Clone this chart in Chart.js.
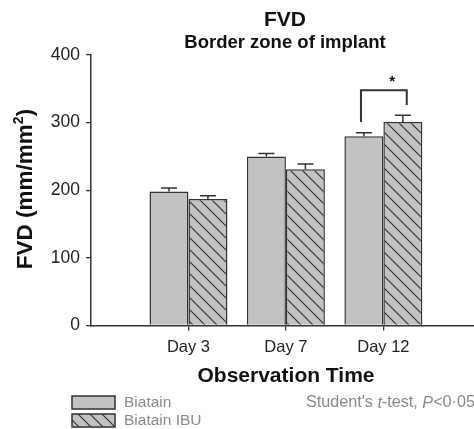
<!DOCTYPE html>
<html>
<head>
<meta charset="utf-8">
<script src="https://cdn.jsdelivr.net/npm/chart.js@4/dist/chart.umd.min.js"></script>
<style>
html,body{margin:0;padding:0;background:#fff;}
canvas{display:block;}
</style>
</head>
<body>
<canvas id="c" width="474" height="429"></canvas>
<script>
// ---- data ----
const categories = ['Day 3', 'Day 7', 'Day 12'];
const catPositions = [1, 2, 3];
const biatain = [198, 250, 280];
const biatainErr = [5.5, 4.5, 5];
const biatainIBU = [187, 231, 301];
const biatainIBUErr = [5, 8, 10];
const yTicks = [0, 100, 200, 300, 400];
const bracketX = [2.77, 3.24];
const bracketY = [301, 348, 348, 326];
const starPos = [3.09, 365];
const seriesNames = ['Biatain', 'Biatain IBU'];

const FONT = '"Liberation Sans", Arial, Helvetica, sans-serif';
const GREY = '#c2c2c2';
const DARK = '#333';

const canvas = document.getElementById('c');
const mainCtx = canvas.getContext('2d');

function makeHatch() {
  const s = 12;
  const c = document.createElement('canvas');
  c.width = s; c.height = s;
  const g = c.getContext('2d');
  g.fillStyle = GREY;
  g.fillRect(0, 0, s, s);
  g.strokeStyle = DARK;
  g.lineWidth = 1.2;
  g.beginPath();
  g.moveTo(-1, -1); g.lineTo(s + 1, s + 1);
  g.moveTo(-1, s - 1); g.lineTo(1, s + 1);
  g.moveTo(s - 1, -1); g.lineTo(s + 1, 1);
  g.stroke();
  return mainCtx.createPattern(c, 'repeat');
}
const hatch = makeHatch();

const errs = [biatainErr, biatainIBUErr];
const vals = [biatain, biatainIBU];

const decor = {
  id: 'decor',
  afterDatasetsDraw(chart) {
    const ctx = chart.ctx;
    const xs = chart.scales.x, ys = chart.scales.y;
    ctx.save();
    ctx.strokeStyle = DARK;
    ctx.lineWidth = 1.5;
    // error bars
    for (let d = 0; d < 2; d++) {
      const meta = chart.getDatasetMeta(d);
      meta.data.forEach((bar, j) => {
        const yTop = ys.getPixelForValue(vals[d][j] + errs[d][j]);
        ctx.beginPath();
        ctx.moveTo(bar.x, bar.y);
        ctx.lineTo(bar.x, yTop);
        ctx.moveTo(bar.x - 8, yTop);
        ctx.lineTo(bar.x + 8, yTop);
        ctx.stroke();
      });
    }
    // significance bracket
    const bx1 = xs.getPixelForValue(bracketX[0]);
    const bx2 = xs.getPixelForValue(bracketX[1]);
    ctx.lineWidth = 2;
    ctx.beginPath();
    ctx.moveTo(bx1, ys.getPixelForValue(bracketY[0]));
    ctx.lineTo(bx1, ys.getPixelForValue(bracketY[1]));
    ctx.lineTo(bx2, ys.getPixelForValue(bracketY[2]));
    ctx.lineTo(bx2, ys.getPixelForValue(bracketY[3]));
    ctx.stroke();
    ctx.fillStyle = '#111';
    ctx.font = 'bold 15px ' + FONT;
    ctx.textAlign = 'center';
    ctx.textBaseline = 'middle';
    ctx.fillText('*', xs.getPixelForValue(starPos[0]), ys.getPixelForValue(starPos[1]) + 3);
    ctx.restore();
  },
  afterDraw(chart) {
    const ctx = chart.ctx;
    ctx.save();
    ctx.fillStyle = '#111';
    ctx.textAlign = 'center';
    ctx.textBaseline = 'middle';
    // titles
    ctx.font = 'bold 21px ' + FONT;
    ctx.fillText('FVD', 285, 20);
    ctx.font = 'bold 18.5px ' + FONT;
    ctx.fillText('Border zone of implant', 285, 43);
    // x title
    ctx.font = 'bold 21px ' + FONT;
    ctx.fillText('Observation Time', 286, 376);
    // y title rotated with superscript
    ctx.save();
    ctx.translate(26, 189);
    ctx.rotate(-Math.PI / 2);
    const f1 = 'bold 22.5px ' + FONT, f2 = 'bold 14px ' + FONT;
    ctx.font = f1;
    const p1 = 'FVD (mm/mm', p3 = ')';
    const w1 = ctx.measureText(p1).width, w3 = ctx.measureText(p3).width;
    ctx.font = f2;
    const w2 = ctx.measureText('2').width;
    let x = -(w1 + w2 + w3) / 2;
    ctx.textAlign = 'left';
    ctx.font = f1; ctx.fillText(p1, x, 0); x += w1;
    ctx.font = f2; ctx.fillText('2', x, -6.5); x += w2;
    ctx.font = f1; ctx.fillText(p3, x, 0);
    ctx.restore();
    // legend
    const boxes = [[72, 396], [72, 414]];
    const fills = [GREY, hatch];
    ctx.lineWidth = 1.5;
    ctx.strokeStyle = DARK;
    boxes.forEach((b, i) => {
      ctx.fillStyle = fills[i];
      ctx.fillRect(b[0], b[1], 43, 13);
      ctx.strokeRect(b[0], b[1], 43, 13);
    });
    ctx.fillStyle = '#8a8a8a';
    ctx.textAlign = 'left';
    ctx.font = '15.5px ' + FONT;
    ctx.fillText(seriesNames[0], 124, 403);
    ctx.fillText(seriesNames[1], 124, 421);
    // statistics note
    const parts = [["Student's ", false], ['t', true], ['-test, ', false], ['P', true], ['<0·05', false]];
    const nf = '16.2px ' + FONT;
    let total = 0;
    parts.forEach(p => { ctx.font = (p[1] ? 'italic ' : '') + nf; total += ctx.measureText(p[0]).width; });
    let sx = 475 - total;
    parts.forEach(p => { ctx.font = (p[1] ? 'italic ' : '') + nf; ctx.fillText(p[0], sx, 403); sx += ctx.measureText(p[0]).width; });
    ctx.restore();
  }
};

new Chart(canvas, {
  type: 'bar',
  data: {
    datasets: [
      {
        label: seriesNames[0],
        data: catPositions.map((x, i) => ({ x: x, y: biatain[i] })),
        backgroundColor: GREY,
        borderColor: DARK,
        borderWidth: 1.5,
        categoryPercentage: 0.8,
        barPercentage: 1.0
      },
      {
        label: seriesNames[1],
        data: catPositions.map((x, i) => ({ x: x, y: biatainIBU[i] })),
        backgroundColor: hatch,
        borderColor: DARK,
        borderWidth: 1.5,
        categoryPercentage: 0.8,
        barPercentage: 1.0
      }
    ]
  },
  options: {
    responsive: false,
    animation: false,
    devicePixelRatio: 1,
    layout: { padding: { top: 55, left: 0, right: 0, bottom: 0 } },
    plugins: { legend: { display: false }, tooltip: { enabled: false }, title: { display: false } },
    scales: {
      x: {
        type: 'linear',
        offset: false,
        min: 0,
        max: 3.93,
        afterBuildTicks: s => { s.ticks = catPositions.map(v => ({ value: v })); },
        afterFit: s => { s.height = 103.5; },
        ticks: {
          callback: v => categories[catPositions.indexOf(v)],
          font: { size: 16.5, family: FONT },
          color: '#222',
          padding: 7,
          maxRotation: 0,
          autoSkip: false
        },
        grid: { offset: false, drawOnChartArea: false, drawTicks: true, tickLength: 5, color: DARK, lineWidth: 1.3 },
        border: { display: true, color: DARK, width: 1.5 }
      },
      y: {
        min: 0,
        max: 400,
        afterBuildTicks: s => { s.ticks = yTicks.map(v => ({ value: v })); },
        afterFit: s => { s.width = 91; },
        ticks: {
          font: { size: 17.5, family: FONT },
          color: '#222',
          padding: 6
        },
        grid: { drawOnChartArea: false, drawTicks: true, tickLength: 5, color: DARK, lineWidth: 1.3 },
        border: { display: true, color: DARK, width: 1.5 }
      }
    }
  },
  plugins: [decor]
});
</script>
</body>
</html>
